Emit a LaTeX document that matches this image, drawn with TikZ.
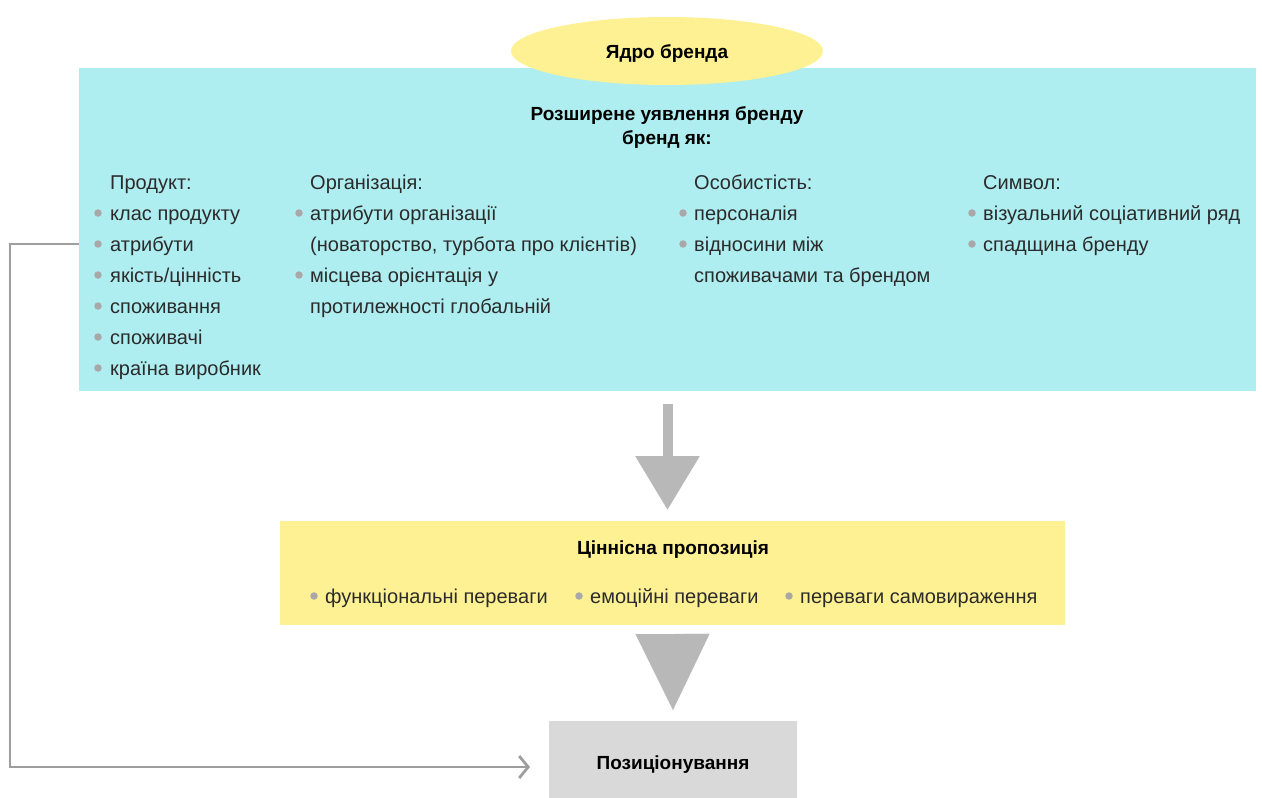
\documentclass[tikz,border=0pt]{standalone}
\usepackage{fontspec}
\setmainfont{Liberation Sans}
\usetikzlibrary{shapes.geometric,arrows.meta,positioning}
\definecolor{cyanbox}{HTML}{AEEDF0}
\definecolor{yellowbox}{HTML}{FEF193}
\definecolor{greybox}{HTML}{D9D9D9}
\definecolor{dotgrey}{HTML}{A8A8A8}
\definecolor{arrowgrey}{HTML}{B8B8B8}
\definecolor{linegrey}{HTML}{9E9E9E}
\definecolor{bodytext}{HTML}{2B2B2B}
\tikzset{x=1pt, y=-1pt, % one unit is one pixel of the layout, y runs downwards
box/.style={inner sep=0pt, outer sep=0pt}, % the coloured panels
heading/.style={font=\fontsize{19}{24}\selectfont\bfseries, align=center, text=black},
item/.style={anchor=base west, inner sep=0pt, font=\fontsize{20}{22}\selectfont, text=bodytext},
dot/.style={circle, fill=dotgrey, inner sep=0pt, minimum size=7.5pt}, % grey bullets
bigarrow/.style={draw=none, fill=arrowgrey}, % the wide down arrows
conn/.style={draw=linegrey, line width=2.8pt, -{Straight Barb[length=9pt,width=22pt,line width=2.8pt]}},
}

\begin{document}
\begin{tikzpicture}
\useasboundingbox (0,0) rectangle (1262,798);

% panels
\node[box, fill=cyanbox, minimum width=1177pt, minimum height=323pt] (ext) at (667.5,229.5) {};
\node[box, ellipse, fill=yellowbox, minimum width=312pt, minimum height=68pt] (core) at (667,51) {};
\node[heading] (coretitle) at (667,54) {Ядро бренда};
\node[heading] (exttitle) at (667,128) {Розширене уявлення бренду\\бренд як:};
\node[box, fill=yellowbox, minimum width=785pt, minimum height=104pt] (value) at (672.5,573) {};
\node[box, fill=greybox, minimum width=248pt, minimum height=92pt] (pos) at (673,767) {};
\node[heading] (postitle) at (673,765) {Позиціонування};
\node[heading] (valuetitle) at (673,550) {Ціннісна пропозиція};

% column: product
\node[item] (prodhead) at (110,189) {Продукт:};
\foreach \t [count=\i] in {клас продукту, атрибути, якість/цінність, споживання, споживачі, країна виробник}{
  \node[dot] (dprod\i) at (98,{182+31*\i}) {};
  \node[item] (prod\i) at (110,{189+31*\i}) {\t};
}

% column: organisation
\node[item] (orghead) at (310,189) {Організація:};
\node[dot] (dorg1) at (299,213) {};
\node[item] (org1) at (310,220) {атрибути організації};
\node[item] (org2) at (310,251) {(новаторство, турбота про клієнтів)};
\node[dot] (dorg3) at (299,275) {};
\node[item] (org3) at (310,282) {місцева орієнтація у};
\node[item] (org4) at (310,313) {протилежності глобальній};

% column: personality
\node[item] (perhead) at (694,189) {Особистість:};
\node[dot] (dper1) at (683,213) {};
\node[item] (per1) at (694,220) {персоналія};
\node[dot] (dper2) at (683,244) {};
\node[item] (per2) at (694,251) {відносини між};
\node[item] (per3) at (694,282) {споживачами та брендом};

% column: symbol
\node[item] (symhead) at (983,189) {Символ:};
\node[dot] (dsym1) at (972,213) {};
\node[item] (sym1) at (983,220) {візуальний соціативний ряд};
\node[dot] (dsym2) at (972,244) {};
\node[item] (sym2) at (983,251) {спадщина бренду};

% value proposition
\node[dot] (dval1) at (314,596) {};
\node[item] (val1) at (325,603) {функціональні переваги};
\node[dot] (dval2) at (579,596) {};
\node[item] (val2) at (590,603) {емоційні переваги};
\node[dot] (dval3) at (789,596) {};
\node[item] (val3) at (800,603) {переваги самовираження};

% arrows
\draw[bigarrow, line width=10pt, draw=arrowgrey, -{Triangle[length=54pt,width=62pt]}, shorten <=13pt, shorten >=11pt] (ext.south) -- (ext.south |- value.north);
\draw[bigarrow, line width=0.1pt, draw=arrowgrey, -{Triangle[length=76pt,width=74pt]}, shorten <=9pt, shorten >=11pt] (value.south) -- (pos.north);
\draw[conn, shorten >=19pt] (ext.west |- dprod2) -- ++(-69,0) |- (pos.west);
\end{tikzpicture}
\end{document}
